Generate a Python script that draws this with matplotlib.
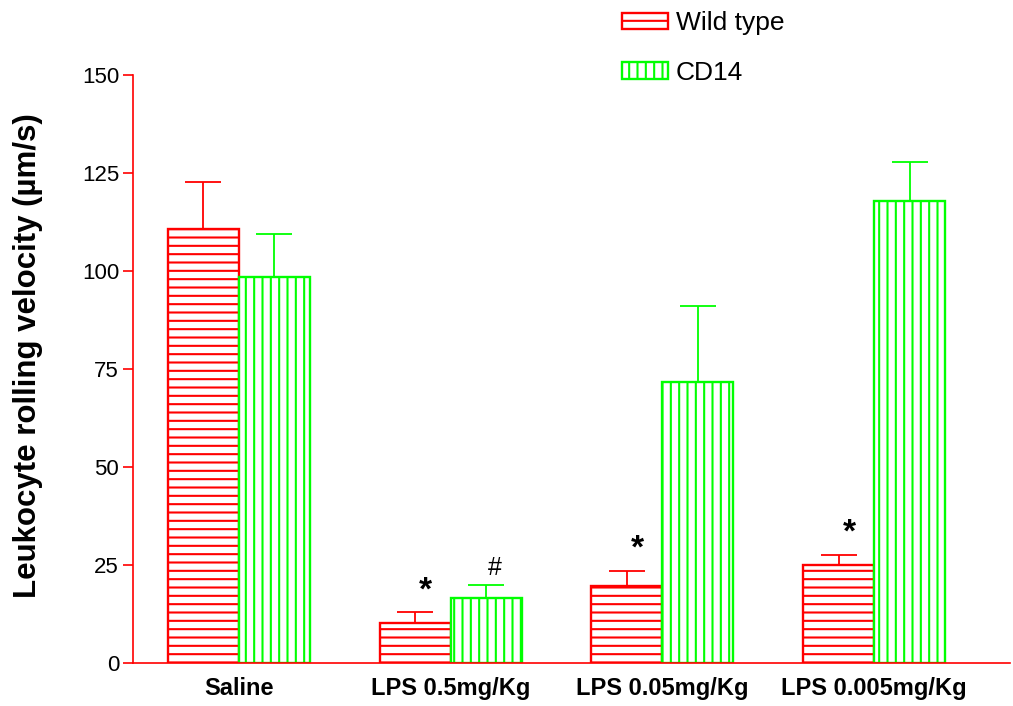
import numpy as np
import matplotlib
matplotlib.use("Agg")
import matplotlib.pyplot as plt

# ============================================================================
# DATA
# ============================================================================

groups = ['Saline', 'LPS 0.5mg/Kg', 'LPS 0.05mg/Kg', 'LPS 0.005mg/Kg']
wt_mean = [110.7, 10.2, 19.6, 25.0]
wt_err = [12.0, 2.8, 3.9, 2.6]
cd14_mean = [98.5, 16.6, 71.7, 117.9]
cd14_err = [10.9, 3.3, 19.4, 9.9]
wt_marks = ['', '*', '*', '*']
cd14_marks = ['', '#', '', '']

RED = '#FF0000'
GREEN = '#00FF00'

plt.rcParams['font.family'] = ['Liberation Sans', 'DejaVu Sans']
plt.rcParams['hatch.linewidth'] = 1.5

fig = plt.figure(figsize=(10.13, 7.06), dpi=100)
ax = fig.add_axes([0.1313, 0.0609, 0.866, 0.8329])

x = np.arange(len(groups))
w = 0.335

b1 = ax.bar(x - w / 2, wt_mean, w, facecolor='white', edgecolor=RED,
            hatch='--', linewidth=1.7, label='Wild type', zorder=2)
b2 = ax.bar(x + w / 2, cd14_mean, w, facecolor='white', edgecolor=GREEN,
            hatch='||', linewidth=1.7, label='CD14', zorder=2)

ax.errorbar(x - w / 2, wt_mean, yerr=[np.zeros(4), wt_err], fmt='none',
            ecolor=RED, elinewidth=1.3, capsize=13, capthick=1.3, zorder=1)
ax.errorbar(x + w / 2, cd14_mean, yerr=[np.zeros(4), cd14_err], fmt='none',
            ecolor=GREEN, elinewidth=1.3, capsize=13, capthick=1.3, zorder=1)

# significance marks
for i in range(len(groups)):
    if wt_marks[i]:
        ax.text(x[i] - w / 2 + 0.05, wt_mean[i] + wt_err[i] + 1.5, wt_marks[i],
                ha='center', va='bottom', fontsize=24, fontweight='bold')
    if cd14_marks[i]:
        ax.text(x[i] + w / 2 + 0.04, cd14_mean[i] + cd14_err[i] + 1.2, cd14_marks[i],
                ha='center', va='bottom', fontsize=18)

ax.set_xlim(-0.5, 3.643)
ax.set_ylim(0, 150)
ax.set_yticks([0, 25, 50, 75, 100, 125, 150])
ax.set_xticks(x)
ax.set_xticklabels(groups, fontsize=17, fontweight='bold')
ax.tick_params(axis='x', length=0, pad=10)
ax.tick_params(axis='y', colors=RED, labelcolor='black', labelsize=16,
               length=7, width=1.2, direction='out', pad=3)

for s in ['top', 'right']:
    ax.spines[s].set_visible(False)
for s in ['left', 'bottom']:
    ax.spines[s].set_color(RED)
    ax.spines[s].set_linewidth(1.2)

ax.set_ylabel('Leukocyte rolling velocity (\u00b5m/s)', fontsize=22.5,
              fontweight='bold')
ax.yaxis.set_label_coords(-0.103, 0.522)

fig.legend(handles=[b1, b2], loc='upper left', bbox_to_anchor=(0.614, 0.984),
           frameon=False, fontsize=19, handlelength=1.74, handleheight=0.6,
           labelspacing=0.98, handletextpad=0.3, borderaxespad=0, borderpad=0)

plt.savefig('out.png', dpi=100)
